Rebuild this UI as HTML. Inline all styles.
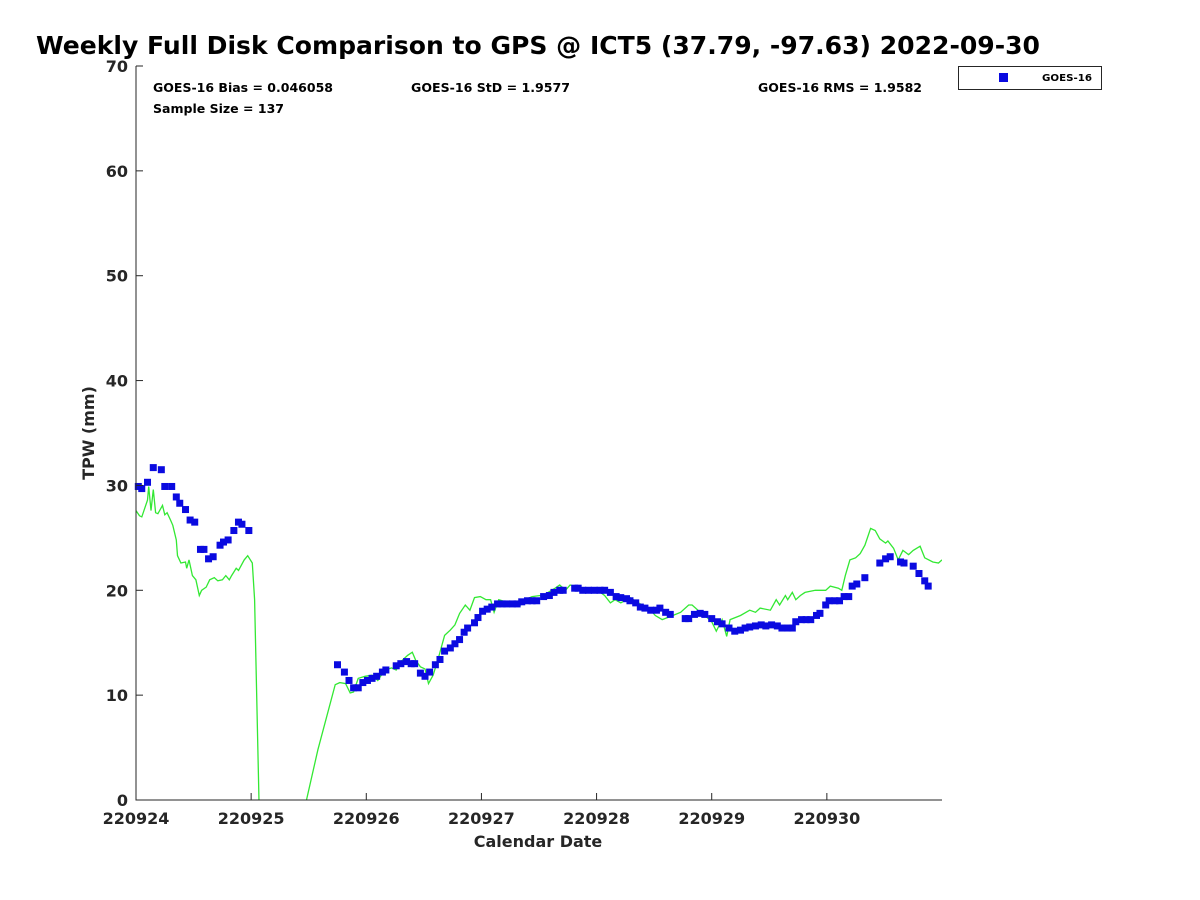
<!DOCTYPE html>
<html><head><meta charset="utf-8"><style>
body{margin:0;background:#fff;}
svg{display:block;font-family:"DejaVu Sans","Liberation Sans",sans-serif;}
</style></head><body>
<svg id="c" width="1200" height="900"></svg>
<script>
const goesX=[0.02,0.05,0.10,0.15,0.22,0.25,0.31,0.35,0.38,0.43,0.47,0.51,0.56,0.59,0.63,0.67,0.73,0.76,0.80,0.85,0.89,0.92,0.98,
1.75,1.81,1.85,1.89,1.93,1.97,2.01,2.05,2.09,2.14,2.17,2.26,2.30,2.35,2.39,2.42,2.47,2.51,2.55,2.60,2.64,2.68,2.73,2.77,2.81,2.85,2.88,2.94,2.97,3.01,3.05,3.09,3.14,3.18,3.22,3.27,3.31,3.35,3.40,3.44,3.48,3.54,3.59,3.63,3.68,3.71,3.81,3.84,3.88,3.93,3.98,4.03,4.07,4.12,4.17,4.21,4.26,4.29,4.34,4.38,4.42,4.47,4.52,4.55,4.60,4.64,4.77,4.80,4.85,4.90,4.94,5.00,5.05,5.09,5.15,5.20,5.25,5.29,5.33,5.38,5.43,5.47,5.52,5.57,5.61,5.66,5.70,5.73,5.78,5.82,5.86,5.91,5.94,5.99,6.02,6.07,6.11,6.15,6.19,6.22,6.26,6.33,6.46,6.51,6.55,6.64,6.67,6.75,6.80,6.85,6.88];
const goesY=[29.9,29.7,30.3,31.7,31.5,29.9,29.9,28.9,28.3,27.7,26.7,26.5,23.9,23.9,23.0,23.2,24.3,24.6,24.8,25.7,26.5,26.3,25.7,
12.9,12.2,11.4,10.7,10.7,11.2,11.4,11.6,11.8,12.2,12.4,12.8,13.0,13.2,13.0,13.0,12.1,11.8,12.2,12.9,13.4,14.2,14.5,14.9,15.3,16.0,16.4,16.9,17.4,18.0,18.2,18.4,18.7,18.7,18.7,18.7,18.7,18.9,19.0,19.0,19.0,19.4,19.5,19.8,20.0,20.0,20.2,20.2,20.0,20.0,20.0,20.0,20.0,19.8,19.4,19.3,19.2,19.0,18.8,18.4,18.3,18.1,18.1,18.3,17.9,17.7,17.3,17.3,17.7,17.8,17.7,17.3,17.0,16.8,16.4,16.1,16.2,16.4,16.5,16.6,16.7,16.6,16.7,16.6,16.4,16.4,16.4,17.0,17.2,17.2,17.2,17.6,17.8,18.6,19.0,19.0,19.0,19.4,19.4,20.4,20.6,21.2,22.6,23.0,23.2,22.7,22.6,22.3,21.6,20.9,20.4];
const gpsX=[0.00,0.03,0.05,0.10,0.11,0.13,0.15,0.17,0.19,0.23,0.25,0.27,0.30,0.32,0.35,0.36,0.39,0.43,0.44,0.46,0.49,0.52,0.55,0.57,0.61,0.64,0.68,0.71,0.75,0.78,0.81,0.83,0.87,0.89,0.94,0.97,1.01,1.03,1.07,null,1.46,1.58,1.73,1.77,1.82,1.86,1.89,1.93,1.99,2.05,2.10,2.16,2.22,2.26,2.30,2.36,2.40,2.43,2.47,2.51,2.54,2.58,2.62,2.68,2.73,2.77,2.81,2.86,2.90,2.94,2.99,3.04,3.08,3.11,3.15,3.21,3.34,3.38,3.44,3.51,3.55,3.58,3.64,3.68,3.73,3.77,3.86,3.94,4.01,4.07,4.12,4.16,4.21,4.29,4.38,4.47,4.51,4.57,4.64,4.73,4.80,4.83,4.86,4.90,4.94,5.00,5.04,5.09,5.13,5.16,5.25,5.33,5.38,5.42,5.51,5.56,5.59,5.64,5.66,5.70,5.73,5.77,5.81,5.90,5.99,6.03,6.10,6.13,6.16,6.20,6.25,6.29,6.33,6.38,6.42,6.46,6.51,6.53,6.58,6.62,6.66,6.71,6.75,6.81,6.85,6.92,6.97,7.00];
const gpsY=[27.6,27.1,27.0,28.6,29.9,27.6,29.6,27.4,27.3,28.1,27.2,27.4,26.7,26.2,24.8,23.3,22.6,22.7,22.1,22.9,21.4,21.0,19.5,20.0,20.3,21.0,21.2,20.9,21.0,21.4,21.0,21.4,22.1,21.9,22.9,23.3,22.6,19.1,-1,null,-1,4.8,11.0,11.2,11.1,10.2,10.3,11.6,11.8,11.9,11.4,12.4,12.6,12.4,13.2,13.8,14.1,13.3,12.7,12.5,11.1,11.9,13.3,15.7,16.2,16.7,17.8,18.6,18.1,19.3,19.4,19.1,19.1,17.9,19.1,18.9,18.6,19.1,19.4,19.5,19.3,19.8,20.2,20.5,20.0,20.5,20.2,19.8,20.0,19.5,18.8,19.1,18.8,19.3,18.7,18.1,17.6,17.2,17.5,17.9,18.6,18.6,18.3,17.9,17.6,17.0,16.1,17.2,15.6,17.2,17.6,18.1,17.9,18.3,18.1,19.1,18.6,19.5,19.1,19.8,19.1,19.5,19.8,20.0,20.0,20.4,20.2,20.0,21.4,22.9,23.1,23.5,24.3,25.9,25.7,24.9,24.5,24.7,24.0,22.9,23.8,23.4,23.8,24.2,23.1,22.7,22.6,22.9];
const yTicks=[0,10,20,30,40,50,60,70];
const xTickLabels=["220924","220925","220926","220927","220928","220929","220930"];

const L=136,R=942,T=66,B=800;
const sx=d=>L+d*(R-L)/7;
const sy=v=>B-v*(B-T)/70;
const NS="http://www.w3.org/2000/svg";
const svg=document.getElementById('c');
function mk(tag,at,txt){const e=document.createElementNS(NS,tag);for(const k in at)e.setAttribute(k,at[k]);if(txt!==undefined)e.textContent=txt;svg.appendChild(e);return e;}

let e;
e=mk('text',{x:36,y:54,'font-size':25,'font-weight':'bold',fill:'#000',textLength:1004,lengthAdjust:'spacingAndGlyphs'},'Weekly Full Disk Comparison to GPS @ ICT5 (37.79, -97.63) 2022-09-30');



const defs=mk('defs',{});
const cp=document.createElementNS(NS,'clipPath');cp.setAttribute('id','clip');
const cr=document.createElementNS(NS,'rect');cr.setAttribute('x',L);cr.setAttribute('y',T);cr.setAttribute('width',R-L);cr.setAttribute('height',B-T);
cp.appendChild(cr);defs.appendChild(cp);

let d='',pen=false;
for(let i=0;i<gpsX.length;i++){
 if(gpsX[i]===null){pen=false;continue;}
 d+=(pen?'L':'M')+sx(gpsX[i]).toFixed(1)+' '+sy(gpsY[i]).toFixed(1)+' ';pen=true;
}
e=mk('path',{d:d,fill:'none',stroke:'#33e833','stroke-width':1.3,'clip-path':'url(#clip)'});



for(let i=0;i<goesX.length;i++){
 e=mk('rect',{x:sx(goesX[i])-3.5,y:sy(goesY[i])-3.5,width:7,height:7,fill:'#0a0ae0'});
 
 
}

e=mk('path',{d:`M${L} ${T} V${B} H${R}`,fill:'none',stroke:'#262626','stroke-width':1});



yTicks.forEach(v=>{
 e=mk('line',{x1:L,x2:L+7,y1:sy(v),y2:sy(v),stroke:'#262626'});
 
 
 e=mk('text',{x:L-8,y:sy(v)+6,'text-anchor':'end','font-size':16,'font-weight':'bold',fill:'#262626'},String(v));
 
 
});
xTickLabels.forEach((t,i)=>{
 e=mk('line',{x1:sx(i),x2:sx(i),y1:B,y2:B-7,stroke:'#262626'});
 
 
 e=mk('text',{x:sx(i),y:B+24,'text-anchor':'middle','font-size':16,'font-weight':'bold',fill:'#262626'},t);
 
 
});
e=mk('text',{x:538,y:847,'text-anchor':'middle','font-size':16,'font-weight':'bold',fill:'#262626'},'Calendar Date');


e=mk('text',{x:94,y:433,'text-anchor':'middle','font-size':16,'font-weight':'bold',fill:'#262626',transform:'rotate(-90 94 433)'},'TPW (mm)');



const stats=[[153,92,'GOES-16 Bias = 0.046058','bias-stat',180],[411,92,'GOES-16 StD = 1.9577','std-stat',159],[758,92,'GOES-16 RMS = 1.9582','rms-stat',164],[153,113,'Sample Size = 137','sample-size-stat',131]];
stats.forEach(s=>{
 e=mk('text',{x:s[0],y:s[1],'font-size':12,'font-weight':'bold',fill:'#000',textLength:s[4],lengthAdjust:'spacingAndGlyphs'},s[2]);
 
 
});

e=mk('rect',{x:958.5,y:66.5,width:143,height:23,fill:'#fff',stroke:'#262626'});


e=mk('rect',{x:999,y:73,width:9,height:9,fill:'#0a0ae0'});


e=mk('text',{x:1042,y:81,'font-size':10,'font-weight':'bold',fill:'#000',textLength:50,lengthAdjust:'spacingAndGlyphs'},'GOES-16');


</script>
</body></html>
